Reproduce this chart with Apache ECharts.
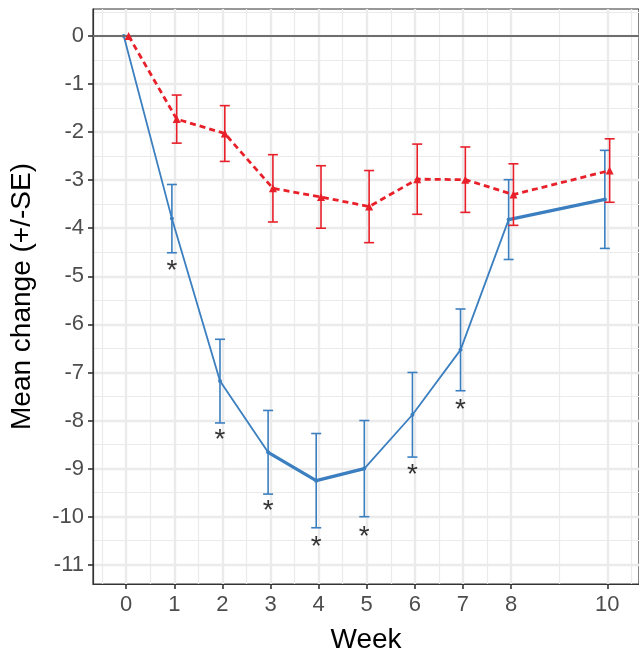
<!DOCTYPE html>
<html>
<head>
<meta charset="utf-8">
<script src="https://cdn.jsdelivr.net/npm/echarts@6.0.0/dist/echarts.min.js"></script>
<style>
  html, body { margin: 0; background: #fff; }
  #chart { width: 639px; height: 659px; }
</style>
</head>
<body>
<div id="chart"></div>
<script>
const weeks = [0, 1, 2, 3, 4, 5, 6, 7, 8, 10]
const blueMean = [0, -3.8, -7.18, -8.66, -9.25, -9.0, -7.88, -6.53, -3.82, -3.4]
const blueSE = [0, 0.71, 0.87, 0.87, 0.98, 1.0, 0.88, 0.85, 0.83, 1.02]
const redMean = [0, -1.73, -2.03, -3.17, -3.35, -3.55, -2.98, -2.99, -3.3, -2.8]
const redSE = [0, 0.5, 0.58, 0.7, 0.65, 0.75, 0.73, 0.68, 0.64, 0.66]
// weeks where the blue segment is drawn heavier
const boldWeeks = [3, 4, 5, 8, 10]
// significance markers under the blue bars
const starWeeks = [1, 2, 3, 4, 5, 6, 7]
const starY = [-4.75, -8.27, -9.75, -10.5, -10.28, -9.0, -7.65]

const xTicks = [0, 1, 2, 3, 4, 5, 6, 7, 8, 10]
const xMinor = [-0.5, 0.5, 1.5, 2.5, 3.5, 4.5, 5.5, 6.5, 7.5, 9, 10.5]
const yTicks = [0, -1, -2, -3, -4, -5, -6, -7, -8, -9, -10, -11]
const yMinor = [0.5, -0.5, -1.5, -2.5, -3.5, -4.5, -5.5, -6.5, -7.5, -8.5, -9.5, -10.5]

const BLUE = '#3b7fc0'
const RED = '#e8202a'
const dodge = 0.05
const font = 'Liberation Sans, Arial, sans-serif'

const bluePts = weeks.map((w, i) => [w - dodge, blueMean[i]])
const redPts = weeks.map((w, i) => [w + dodge, redMean[i]])
const blueBold = weeks.map((w, i) => [w - dodge, boldWeeks.includes(w) ? blueMean[i] : null])
const blueBars = weeks.map((w, i) => [w - dodge, blueMean[i] - blueSE[i], blueMean[i] + blueSE[i]]).filter((d, i) => blueSE[i] > 0)
const redBars = weeks.map((w, i) => [w + dodge, redMean[i] - redSE[i], redMean[i] + redSE[i]]).filter((d, i) => redSE[i] > 0)
const stars = starWeeks.map((w, i) => [w - dodge, starY[i]])

function errorBar(color) {
  return function (params, api) {
    const top = api.coord([api.value(0), api.value(2)])
    const bot = api.coord([api.value(0), api.value(1)])
    const hw = 5
    const style = { stroke: color, lineWidth: 1.6 }
    return {
      type: 'group',
      children: [
        { type: 'line', shape: { x1: top[0], y1: top[1], x2: bot[0], y2: bot[1] }, style },
        { type: 'line', shape: { x1: top[0] - hw, y1: top[1], x2: top[0] + hw, y2: top[1] }, style },
        { type: 'line', shape: { x1: bot[0] - hw, y1: bot[1], x2: bot[0] + hw, y2: bot[1] }, style }
      ]
    }
  }
}

const gridLine = (w) => ({ show: true, lineStyle: { color: '#ebebeb', width: w } })
const hidden = { show: false }

const chart = echarts.init(document.getElementById('chart'))
chart.setOption({
  animation: false,
  backgroundColor: '#fff',
  textStyle: { fontFamily: font },
  grid: { left: 93, right: 0, top: 9, bottom: 75, show: true, borderColor: '#333', borderWidth: 1.2, backgroundColor: '#fff' },
  xAxis: [
    {
      type: 'value', min: -0.69, max: 10.66,
      name: 'Week', nameLocation: 'middle', nameGap: 42,
      nameTextStyle: { color: '#000', fontSize: 28, fontFamily: font },
      axisLine: { show: true, onZero: false, lineStyle: { color: '#333', width: 1.2 } },
      axisTick: { show: true, length: 5, customValues: xTicks, lineStyle: { color: '#333', width: 1.6 } },
      axisLabel: { customValues: xTicks, color: '#4d4d4d', fontSize: 22, margin: 10, fontFamily: font },
      splitLine: gridLine(2.4)
    },
    {
      type: 'value', min: -0.69, max: 10.66, gridIndex: 0,
      axisLine: hidden, axisLabel: { show: false, customValues: xMinor },
      axisTick: { show: false, customValues: xMinor },
      splitLine: gridLine(1.2)
    }
  ],
  yAxis: [
    {
      type: 'value', min: -11.40, max: 0.56,
      name: 'Mean change (+/-SE)', nameLocation: 'middle', nameGap: 57,
      nameTextStyle: { color: '#000', fontSize: 28, fontFamily: font },
      axisLine: { show: true, onZero: false, lineStyle: { color: '#333', width: 1.2 } },
      axisTick: { show: true, length: 5, customValues: yTicks, lineStyle: { color: '#333', width: 1.6 } },
      axisLabel: { customValues: yTicks, color: '#4d4d4d', fontSize: 22, margin: 9, fontFamily: font },
      splitLine: gridLine(2.4)
    },
    {
      type: 'value', min: -11.40, max: 0.56, gridIndex: 0,
      axisLine: hidden, axisLabel: { show: false, customValues: yMinor },
      axisTick: { show: false, customValues: yMinor },
      splitLine: gridLine(1.2)
    }
  ],
  series: [
    {
      type: 'line', data: bluePts, z: 2,
      lineStyle: { color: BLUE, width: 1.8 },
      itemStyle: { color: BLUE },
      symbol: 'circle', symbolSize: 4,
      markLine: {
        silent: true, symbol: 'none', label: { show: false },
        lineStyle: { color: '#6e6e6e', width: 2, type: 'solid' },
        data: [{ yAxis: 0 }]
      }
    },
    {
      type: 'line', data: blueBold, z: 3, connectNulls: false,
      lineStyle: { color: BLUE, width: 3.2 },
      showSymbol: false
    },
    { type: 'custom', data: blueBars, renderItem: errorBar(BLUE), z: 3 },
    { type: 'custom', data: redBars, renderItem: errorBar(RED), z: 4 },
    {
      type: 'line', data: redPts, z: 5,
      lineStyle: { color: RED, width: 2.8, type: [6, 4] },
      itemStyle: { color: RED },
      symbol: 'triangle', symbolSize: 8
    },
    {
      type: 'scatter', data: stars, z: 6,
      symbolSize: 1, itemStyle: { color: 'rgba(0,0,0,0)' },
      label: { show: true, position: 'inside', formatter: '*', color: '#000', fontSize: 28, offset: [0, 7], fontFamily: font }
    }
  ]
})
</script>
</body>
</html>
